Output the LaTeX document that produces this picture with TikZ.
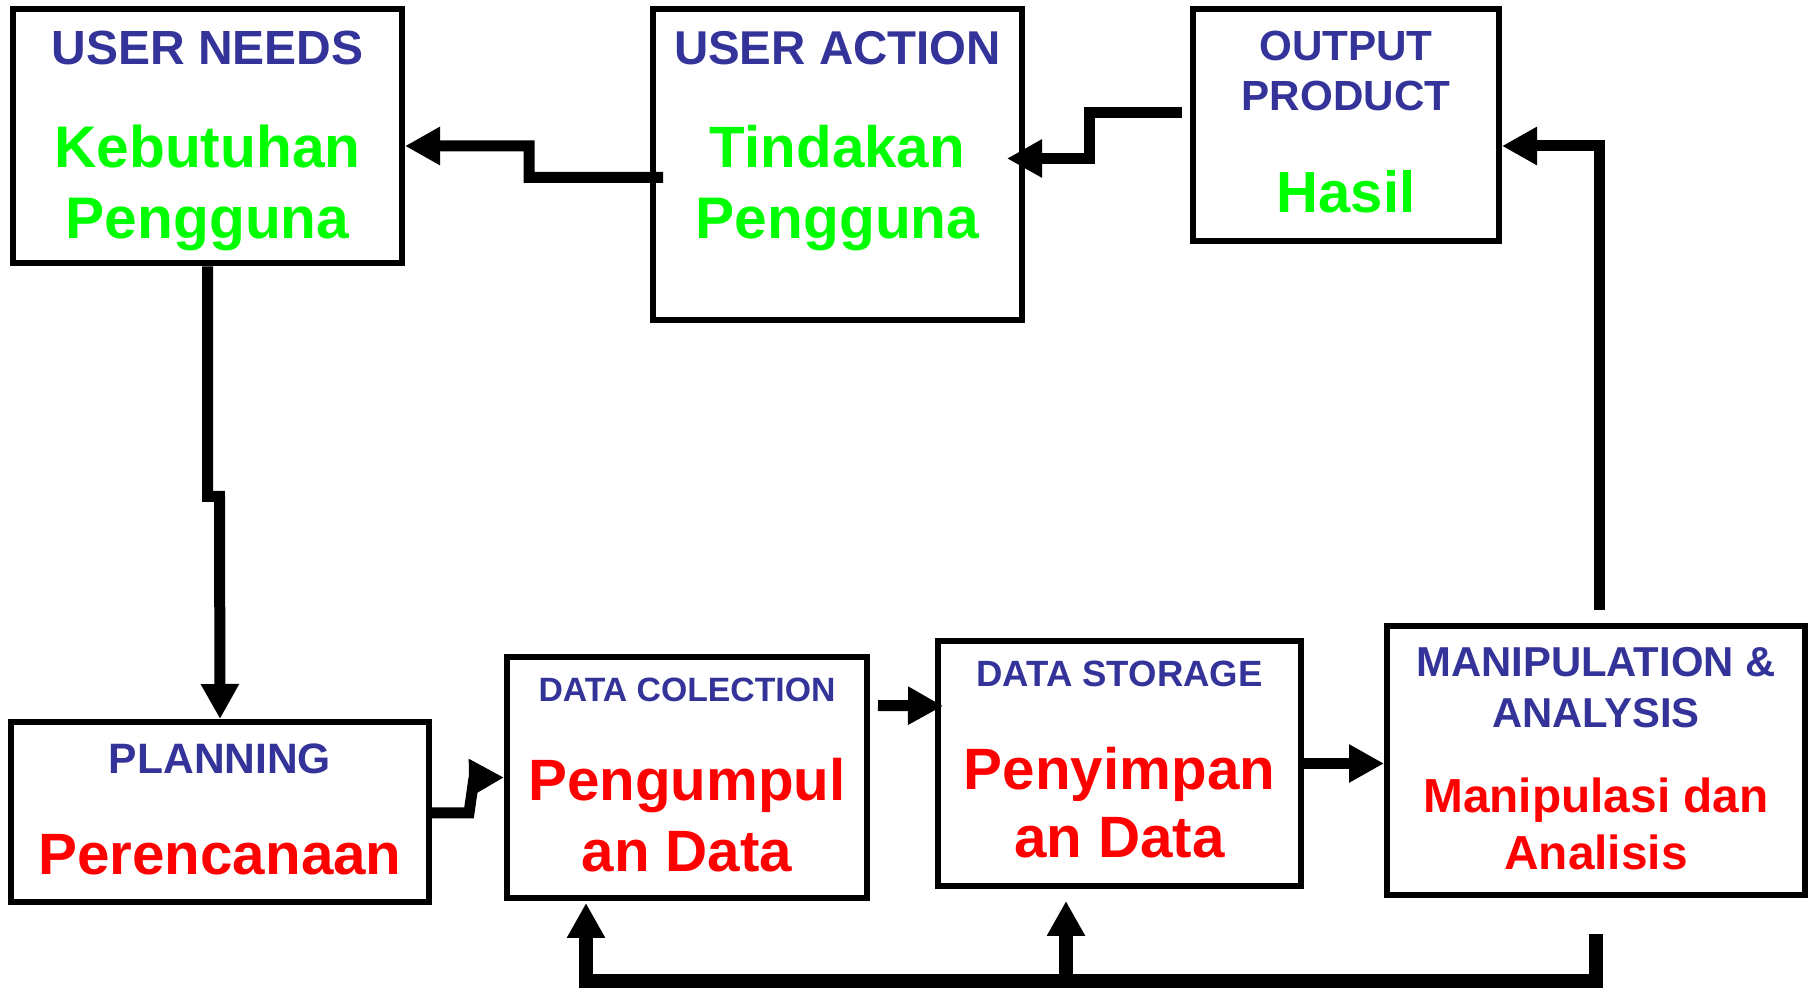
\documentclass[tikz,border=0pt]{standalone}
\usepackage{fontspec}
\setmainfont{Liberation Sans}
\usetikzlibrary{calc,arrows.meta}

\definecolor{biru}{RGB}{51,51,153}
\definecolor{hijau}{RGB}{0,255,0}
\definecolor{merah}{RGB}{255,0,0}

\tikzset{
	kotak/.style={draw,line width=0.6mm,inner sep=0pt},
	teks/.style={anchor=base,inner sep=0pt},
	panah/.style={line width=1.1mm,-{Triangle[length=3.5mm,width=3.6mm]}},
	balik/.style={line width=1.4mm},
}

\begin{document}
\begin{tikzpicture}[x=0.1mm,y=-0.1mm] % 図の開始
\useasboundingbox (0,0) rectangle (1813,990);
\foreach \nama/\x/\y/\w/\h in%
{%
	un/207.5/136.5/389/254,ua/837.5/164.5/369/311,out/1346/125/306/232,%
	pl/220/812/418/180,dc/687/777.5/360/241,ds/1119.5/763.5/363/245,man/1596/760.5/418/269%
}{%
	\node[kotak,minimum width=\w*0.1mm,minimum height=\h*0.1mm] (\nama) at (\x,\y) {};
}%
\foreach \x/\y/\warna/\uk/\isi [count=\i] in%
{%
	207.5/65/biru/13.65/USER NEEDS,207.5/168/hijau/16.7/Kebutuhan,207.5/239/hijau/16.7/Pengguna,%
	837.5/65/biru/13.5/USER ACTION,837.5/168/hijau/16.6/Tindakan,837.5/239/hijau/16.7/Pengguna,%
	1346/61/biru/12/OUTPUT,1346/111/biru/12/PRODUCT,1346/213/hijau/16.5/Hasil,%
	220/774/biru/12.1/PLANNING,220/875/merah/16.6/Perencanaan,%
	687/702/biru/9.6/DATA COLECTION,687/801/merah/16.6/Pengumpul,687/872/merah/16.6/an Data,%
	1119.5/687/biru/10.4/DATA STORAGE,1119.5/790/merah/16.6/Penyimpan,1119.5/858/merah/16.6/an Data,%
	1596/677/biru/11.9/MANIPULATION \&,1596/728/biru/11.9/ANALYSIS,%
	1596/813/merah/13.6/Manipulasi dan,1596/870/merah/13.6/Analisis%
}{%
	\node[teks,text=\warna,font=\bfseries\fontsize{\uk}{\uk}\selectfont] (t\i) at (\x,\y) {\isi};
}%
% alur atas
\draw[panah] ($(ua.west)+(13,13)$) -- ++(-134,0) -- ++(0,-31.5) -- ($(un.east)+(0,9.5)$);
\draw[panah] ($(out.west)+(-8,-12)$) -- ++(-93,0) -- ++(0,45.5) -- ($(ua.east)+(-18,-6)$);
\draw[panah] ($(man.north)+(3,-13)$) |- ($(out.east)+(0,21)$);
\draw[panah] (un.south) -- ++(0,230) -- ++(12,0) -- (pl.north);
% alur bawah
\draw[panah] ($(pl.east)+(0,1)$) -- ++(37,0) -- ++(5,-35) -- (dc.west);
\draw[panah] ($(dc.east)+(8,-72)$) -- ($(ds.west)+(8,-57.5)$);
\draw[panah] (ds.east) -- (man.west |- ds.east);
\draw[balik,-{Triangle[length=3.5mm,width=3.6mm]}] ($(man.south)+(0,36)$) |- ($(dc.south)+(-101,80)$) -- ($(dc.south)+(-101,2)$);
\draw[balik,-{Triangle[length=3.5mm,width=3.6mm]}] ($(ds.south)+(-53.5,92)$) -- ($(ds.south)+(-53.5,12)$);
\end{tikzpicture}
\end{document}
